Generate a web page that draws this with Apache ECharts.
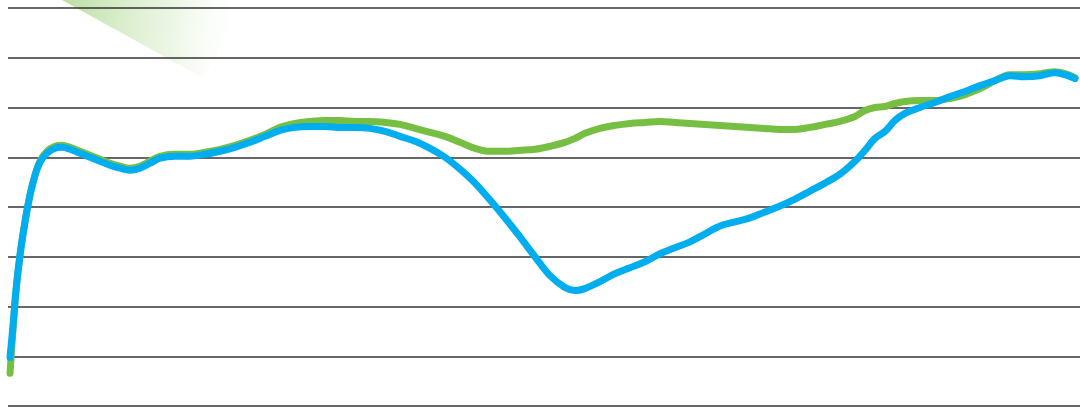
<!DOCTYPE html>
<html>
<head>
<meta charset="utf-8">
<script src="https://cdn.jsdelivr.net/npm/echarts@6/dist/echarts.min.js"></script>
<style>html,body{margin:0;padding:0;background:#fff}#c{width:1080px;height:407px}</style>
</head>
<body>
<div id="c"></div>
<script>
// x positions (picture columns, arbitrary time axis)
var xs = [10,13,16,20,25,30,35,40,47,55,62,70,80,90,100,110,120,130,140,150,160,175,190,205,220,235,250,265,280,295,310,325,340,355,370,385,400,415,430,445,460,475,490,505,520,535,550,565,575,585,600,615,630,645,660,675,690,705,720,735,750,765,780,795,810,825,840,855,865,875,885,895,905,920,935,950,965,980,995,1010,1025,1040,1055,1065,1075];
var blueValues = [49,81,117,152,185,212,232,245,254,259,260,258,254,250,246,242,239,237,239,244,249,251,251,253,256,260,265,271,277,280,281,281,280,280,279,276,271,266,259,250,238,224,207,189,170,150,131,119,116,118,125,133,139,145,153,159,165,173,181,185,189,195,201,208,216,224,233,246,257,269,276,287,294,300,305,311,316,322,327,332,331,332,335,333,329];
var greenValues = [33,76,115,151,185,212,232,246,256,261,262,260,256,252,248,244,241,239,241,246,251,253,253,255,258,262,267,273,280,284,286,287,287,286,286,285,283,279,275,271,265,259,256,256,257,258,261,265,269,274,279,282,284,285,286,285,284,283,282,281,280,279,278,278,280,283,286,291,297,300,301,304,306,307,307,309,313,319,327,333,333,334,336,334,330];
var yTicks = [0,50,100,150,200,250,300,350,400];

function pairs(v){ return xs.map(function(x,i){ return [x, v[i]]; }); }

var chart = echarts.init(document.getElementById('c'));
chart.setOption({
  animation: false,
  backgroundColor: '#fff',
  grid: { left: 8, right: 0, top: 8, bottom: 1 },
  graphic: [{
    type: 'polygon',
    z: -1,
    shape: { points: [[62,0],[248,0],[203,78]] },
    style: {
      fill: { type: 'linear', x: 0, y: 0, x2: 1, y2: 0.3,
        colorStops: [{offset: 0, color: 'rgba(140,200,100,0.6)'}, {offset: 0.6, color: 'rgba(200,230,180,0.35)'}, {offset: 1, color: 'rgba(255,255,255,0)'}] }
    }
  }],
  xAxis: { type: 'value', min: 8, max: 1080, show: false },
  yAxis: {
    type: 'value', min: yTicks[0], max: yTicks[yTicks.length-1], interval: 50,
    axisLine: { show: false }, axisTick: { show: false }, axisLabel: { show: false },
    splitLine: { show: true, lineStyle: { color: '#333', width: 1.5 } }
  },
  series: [
    { type: 'line', data: pairs(greenValues), smooth: 0.35, symbol: 'none',
      lineStyle: { color: '#76bf43', width: 7, cap: 'round', join: 'round' }, z: 2 },
    { type: 'line', data: pairs(blueValues), smooth: 0.35, symbol: 'none',
      lineStyle: { color: '#00aeef', width: 7, cap: 'round', join: 'round' }, z: 3 }
  ]
});
</script>
</body>
</html>
